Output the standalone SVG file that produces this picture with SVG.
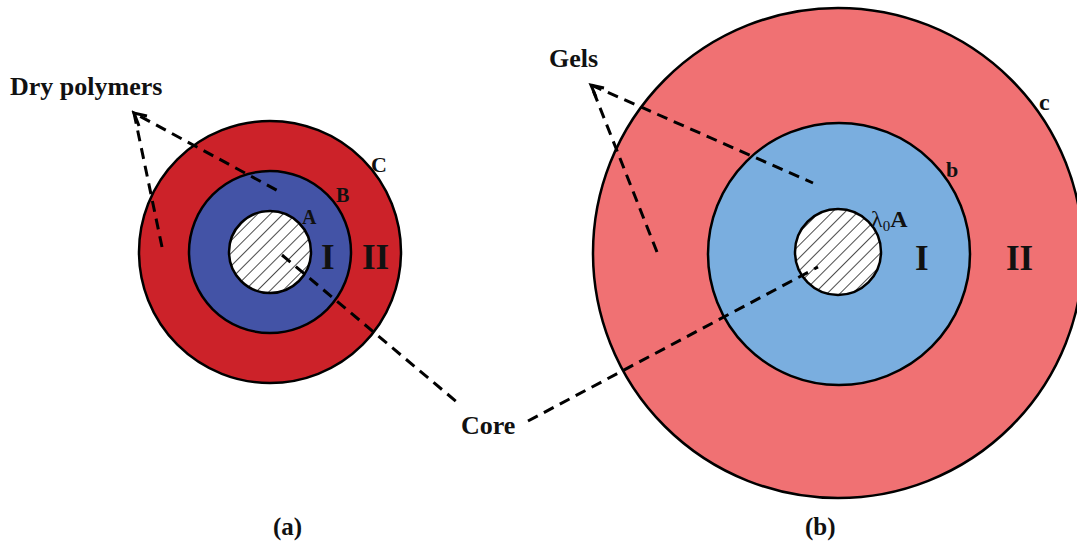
<svg xmlns="http://www.w3.org/2000/svg" width="1077" height="545" viewBox="0 0 1077 545">
<style>
.t{font-family:"Liberation Serif","Times New Roman",serif;font-weight:bold;fill:#111}
.ring{stroke:#000;stroke-width:2.5}
.dash{stroke:#000;stroke-width:3;stroke-dasharray:11 7;fill:none}
</style>
<defs>
<pattern id="hatch" patternUnits="userSpaceOnUse" width="9" height="9" patternTransform="rotate(-45)">
<rect width="9" height="9" fill="#fff"/>
<line x1="0" y1="0" x2="9" y2="0" stroke="#000" stroke-width="1.4"/>
</pattern>
</defs>
<rect width="1077" height="545" fill="#fff"/>
<g id="fig-a">
<circle class="ring" cx="270" cy="252" r="131" fill="#CC2229"/>
<circle class="ring" cx="270" cy="252" r="81" fill="#4353A6"/>
<circle class="ring" cx="270" cy="252" r="41" fill="url(#hatch)"/>
<text class="t" x="371" y="172" font-size="22">C</text>
<text class="t" x="336" y="202" font-size="20">B</text>
<text class="t" x="302" y="224" font-size="20">A</text>
<text class="t" x="321" y="269" font-size="35">I</text>
<text class="t" x="362" y="269" font-size="35">II</text>
<text class="t" x="273" y="535" font-size="25">(a)</text>
</g>
<g id="fig-b">
<circle class="ring" cx="838" cy="253" r="245" fill="#F07173"/>
<circle class="ring" cx="839" cy="254" r="131" fill="#7AAEDF"/>
<circle class="ring" cx="838" cy="252" r="43" fill="url(#hatch)"/>
<text class="t" x="1039" y="110" font-size="24">c</text>
<text class="t" x="946" y="177" font-size="22">b</text>
<text class="t" x="871" y="227" font-size="24"><tspan font-weight="normal">λ</tspan><tspan font-size="15" dy="4" font-weight="normal">0</tspan><tspan dy="-4">A</tspan></text>
<text class="t" x="915" y="270" font-size="35">I</text>
<text class="t" x="1006" y="270" font-size="35">II</text>
<text class="t" x="805" y="535" font-size="25">(b)</text>
</g>
<g id="labels">
<text class="t" x="10" y="95" font-size="26">Dry polymers</text>
<text class="t" x="549" y="67" font-size="26">Gels</text>
<text class="t" x="461" y="434" font-size="26">Core</text>
</g>
<g id="connectors">
<path class="dash" d="M162,247 L134,113 L282,193"/>
<path class="dash" d="M657,252 L591,85 L813,183"/>
<path class="dash" d="M282,255 L458,403"/>
<path class="dash" d="M528,421 L818,267"/>
<path d="M147,116 L134,113 L139,126" fill="none" stroke="#000" stroke-width="3"/>
<path d="M604,88 L591,85 L596,97" fill="none" stroke="#000" stroke-width="3"/>
</g>
</svg>
